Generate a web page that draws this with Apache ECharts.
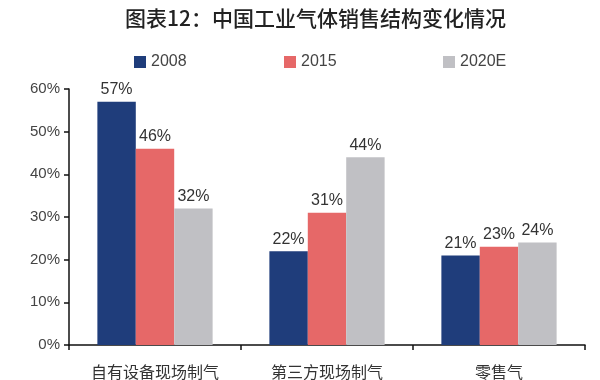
<!DOCTYPE html>
<html>
<head>
<meta charset="utf-8">
<script src="https://cdn.jsdelivr.net/npm/echarts@6/dist/echarts.min.js"></script>
<style>
html,body{margin:0;padding:0;background:#fff;}
#chart{width:600px;height:380px;}
</style>
</head>
<body>
<div id="chart"></div>
<script>
const titleText = '图表12：中国工业气体销售结构变化情况';
const categories = ['自有设备现场制气', '第三方现场制气', '零售气'];
const seriesNames = ['2008', '2015', '2020E'];
const values2008 = [57, 22, 21];
const values2015 = [46, 31, 23];
const values2020E = [32, 44, 24];
const colors = ['#1f3d7b', '#e66868', '#c0c0c4'];

const chart = echarts.init(document.getElementById('chart'));
const labelStyle = {
  show: true, position: 'top', distance: 4,
  formatter: '{c}%', fontSize: 16, color: '#333',
  fontFamily: 'Liberation Sans'
};
const legendBase = {
  icon: 'rect', itemWidth: 12, itemHeight: 12, top: 49,
  textStyle: {fontSize: 16, color: '#444', fontFamily: 'Liberation Sans'}
};
chart.setOption({
  backgroundColor: '#fff',
  animation: false,
  title: {
    text: titleText, left: 120, top: 3,
    textStyle: {fontSize: 21, fontWeight: 500, color: '#222',
      fontFamily: 'Noto Sans CJK SC'}
  },
  legend: [
    Object.assign({}, legendBase, {data: [seriesNames[0]], left: 129}),
    Object.assign({}, legendBase, {data: [seriesNames[1]], left: 279}),
    Object.assign({}, legendBase, {data: [seriesNames[2]], left: 438})
  ],
  grid: {left: 69, right: 15, top: 89, bottom: 33},
  xAxis: {
    type: 'category', data: categories,
    axisLine: {lineStyle: {color: '#111', width: 1.5}},
    axisTick: {show: true, length: 5, lineStyle: {color: '#111', width: 1.5}},
    axisLabel: {fontSize: 16, color: '#333', margin: 19,
      fontFamily: 'Noto Sans CJK SC'}
  },
  yAxis: {
    type: 'value', min: 0, max: 60, interval: 10,
    axisLine: {show: true, lineStyle: {color: '#111', width: 1.5}},
    axisTick: {show: true, length: 5, lineStyle: {color: '#111', width: 1.5}},
    splitLine: {show: false},
    axisLabel: {formatter: '{value}%', fontSize: 15, color: '#444', margin: 9,
      fontFamily: 'Liberation Sans'}
  },
  series: [
    {name: seriesNames[0], type: 'bar', data: values2008, color: colors[0],
      barGap: '0%', barCategoryGap: '33%', label: labelStyle},
    {name: seriesNames[1], type: 'bar', data: values2015, color: colors[1],
      barGap: '0%', barCategoryGap: '33%', label: labelStyle},
    {name: seriesNames[2], type: 'bar', data: values2020E, color: colors[2],
      barGap: '0%', barCategoryGap: '33%', label: labelStyle}
  ]
});
</script>
</body>
</html>
